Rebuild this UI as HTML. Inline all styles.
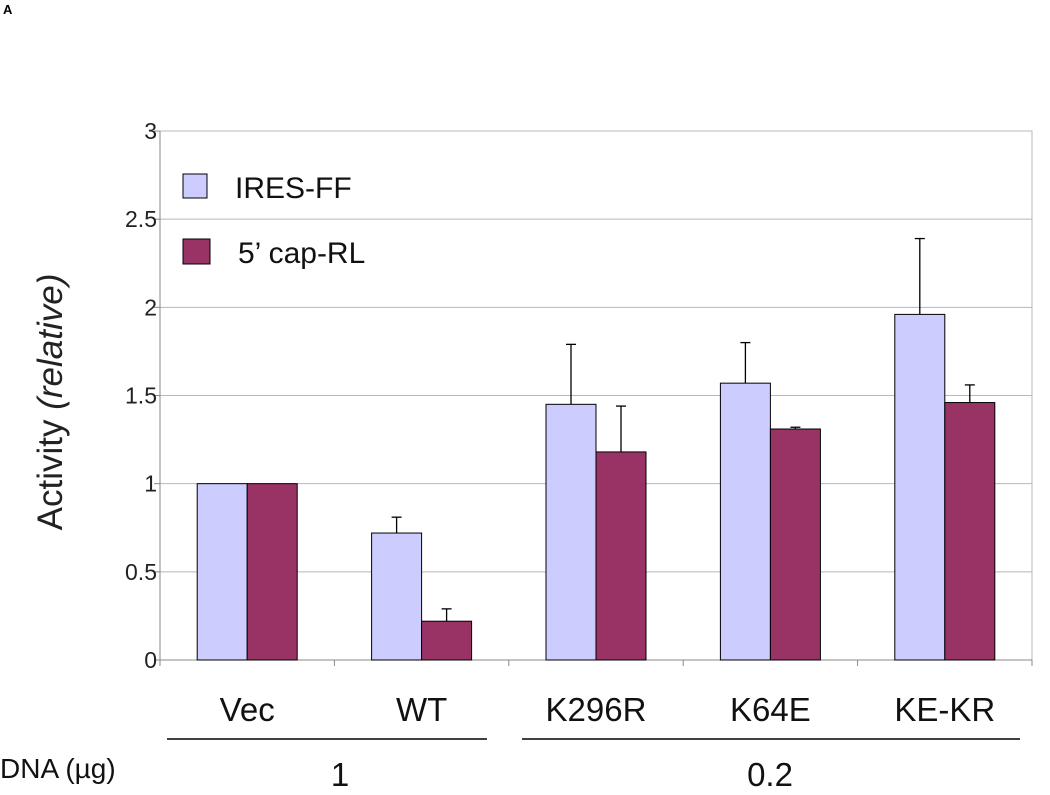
<!DOCTYPE html>
<html><head><meta charset="utf-8"><style>
body{margin:0;background:#fff;}
svg{display:block;font-family:"Liberation Sans",Arial,sans-serif;}
</style></head><body>
<svg id="c" width="1050" height="795" xmlns="http://www.w3.org/2000/svg">
<text x="3" y="14" font-size="13" font-weight="bold">A</text>
<g id="plot"></g>
</svg>
<script>
const categories=["Vec","WT","K296R","K64E","KE-KR"];
const iresValues=[1,0.72,1.45,1.57,1.96];
const iresErr=[0,0.09,0.34,0.23,0.43];
const capValues=[1,0.22,1.18,1.31,1.46];
const capErr=[0,0.07,0.26,0.01,0.10];
const yTicks=["0","0.5","1","1.5","2","2.5","3"];
const NS="http://www.w3.org/2000/svg";
const g=document.getElementById('plot');
const X0=160,X1=1032,Y0=660,Y1=131,YMAX=3;
const y=v=>Y0-(v/YMAX)*(Y0-Y1);
const gw=(X1-X0)/categories.length;
const xc=i=>X0+gw*(i+0.5);
function mk(t,a,txt){const e=document.createElementNS(NS,t);for(const k in a)e.setAttribute(k,a[k]);if(txt!==undefined)e.textContent=txt;g.appendChild(e);return e;}
yTicks.forEach(t=>{const v=parseFloat(t),yy=y(v);
 if(v>0){const l=mk('line',{x1:X0,x2:X1,y1:yy,y2:yy,stroke:'#b8b8b8','stroke-width':1});
 
 }
 const tk=mk('line',{x1:X0-6,x2:X0,y1:yy,y2:yy,stroke:'#888'});
 
 
 const tx=mk('text',{x:X0-3,y:yy+8,'font-size':23,'text-anchor':'end',fill:'#222'},t);
 
 
});
const fr=mk('rect',{x:X0,y:Y1,width:X1-X0,height:Y0-Y1,fill:'none',stroke:'#b8b8b8'});


const ax=mk('line',{x1:X0,x2:X0,y1:Y1,y2:Y0,stroke:'#888'});


const bx=mk('line',{x1:X0,x2:X1,y1:Y0,y2:Y0,stroke:'#888'});


for(let i=0;i<=categories.length;i++){const t=mk('line',{x1:X0+gw*i,x2:X0+gw*i,y1:Y0,y2:Y0+6,stroke:'#888'});
 
 }
const BW=50;
categories.forEach((c,i)=>{
 [[iresValues,iresErr,'#ccccff',-BW,'ires-ff'],[capValues,capErr,'#993366',0,'cap-rl']].forEach(([vals,errs,col,off,nm])=>{
  const v=vals[i],x=xc(i)+off,top=y(v);
  if(errs[i]>0){const et=y(v+errs[i]);
   const e1=mk('line',{x1:x+BW/2,x2:x+BW/2,y1:et,y2:top,stroke:'#000','stroke-width':1.3});
   
   
   const e2=mk('line',{x1:x+BW/2-5,x2:x+BW/2+5,y1:et,y2:et,stroke:'#000','stroke-width':1.3});
   
   }
  const r=mk('rect',{x:x,y:top,width:BW,height:Y0-top,fill:col,stroke:'#000','stroke-width':1});
  
  
 });
 const t=mk('text',{x:xc(i),y:721,'font-size':33,'text-anchor':'middle',fill:'#111'},c);
 
 
});
</script>
<svg style="position:absolute;left:0;top:0" width="1050" height="795" xmlns="http://www.w3.org/2000/svg" font-family="Liberation Sans, Arial, sans-serif">
<g>
<rect x="183" y="174" width="24" height="24" fill="#ccccff" stroke="#000"/>
<text x="235" y="198" font-size="30" fill="#111">IRES-FF</text>
<rect x="183" y="239" width="27" height="25" fill="#993366" stroke="#000"/>
<text x="238" y="263" font-size="30" fill="#111">5’ cap-RL</text>
</g>
<text transform="translate(62,402) rotate(-90)" font-size="35" text-anchor="middle" fill="#222">Activity <tspan font-style="italic">(relative)</tspan></text>
<line x1="167" x2="487" y1="739" y2="739" stroke="#000" stroke-width="1.5"/>
<line x1="522" x2="1020" y1="739" y2="739" stroke="#000" stroke-width="1.5"/>
<text x="0" y="778" font-size="28" fill="#111">DNA (µg)</text>
<text x="340" y="786" font-size="33" text-anchor="middle" fill="#111">1</text>
<text x="770" y="786" font-size="33" text-anchor="middle" fill="#111">0.2</text>
</svg>
</body></html>
